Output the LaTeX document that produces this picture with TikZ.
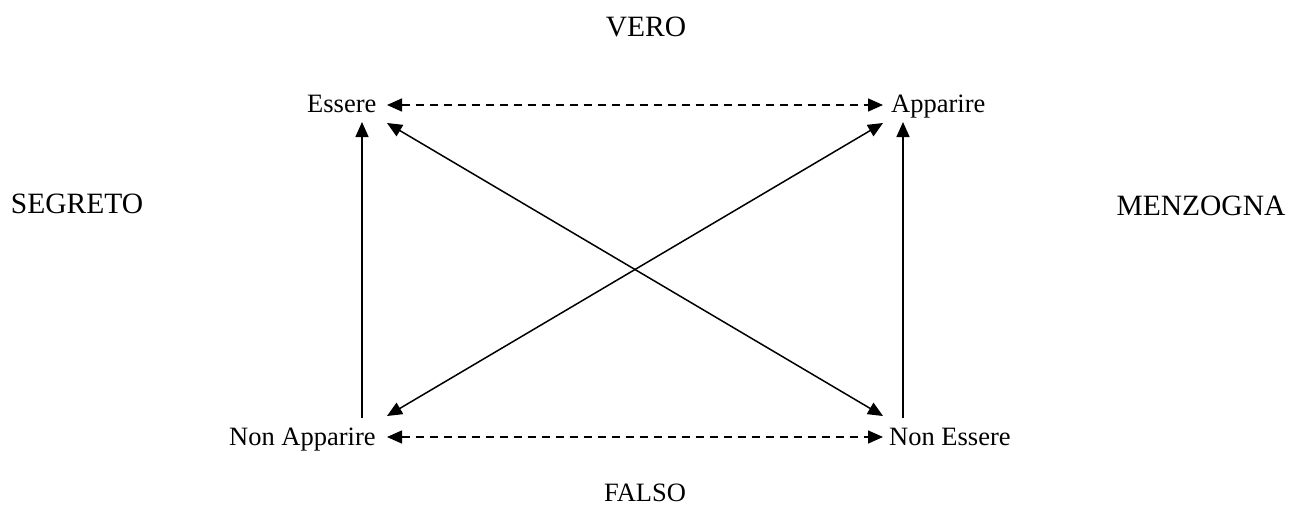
\documentclass[tikz,border=0pt]{standalone}
\usepackage{fontspec}
\setmainfont{Liberation Serif}
\usetikzlibrary{arrows.meta}
\begin{document}
\begin{tikzpicture}[x=1pt,y=-1pt,
  lbl/.style={inner sep=0pt,font=\fontsize{26.5}{30}\selectfont},
  biglbl/.style={inner sep=0pt,font=\fontsize{29.5}{33}\selectfont},
  conn/.style={line width=1.5pt,-{Triangle[length=15pt,width=13pt]}},
  dconn/.style={line width=1.5pt,{Triangle[length=15pt,width=13pt]}-{Triangle[length=15pt,width=13pt]},dash pattern=on 8pt off 6pt}]
\useasboundingbox (0,0) rectangle (1289,508);
\node[biglbl,anchor=base] (vero) at (646,37) {VERO};
\node[lbl,anchor=base] (falso) at (645,501) {FALSO};
\node[biglbl,anchor=base] (segreto) at (77,213) {SEGRETO};
\node[biglbl,anchor=base] (menz) at (1201,215) {MENZOGNA};
\node[lbl,anchor=base west] (ess) at (307,113) {Essere};
\node[lbl,anchor=base west] (app) at (891,113) {Apparire};
\node[lbl,anchor=base west] (napp) at (229,445) {Non Apparire};
\node[lbl,anchor=base west] (ness) at (889,445) {Non Essere};
\coordinate (eL) at (362,122);
\coordinate (nL) at (362,418);
\coordinate (eR) at (903,122);
\coordinate (nR) at (903,418);
\coordinate (essD) at (387,123);
\coordinate (appD) at (883,123);
\coordinate (nappD) at (387,416);
\coordinate (nessD) at (883,416);
\draw[dconn] (387,105) coordinate (essE) -- (883,105) coordinate (appW);
\draw[dconn] (387,437) coordinate (nappE) -- (883,437) coordinate (nessW);
\draw[conn] (nL) -- (eL);
\draw[conn] (nR) -- (eR);
\draw[conn,{Triangle[length=15pt,width=13pt]}-{Triangle[length=15pt,width=13pt]}] (essD) -- (nessD);
\draw[conn,{Triangle[length=15pt,width=13pt]}-{Triangle[length=15pt,width=13pt]}] (nappD) -- (appD);
\end{tikzpicture}
\end{document}
